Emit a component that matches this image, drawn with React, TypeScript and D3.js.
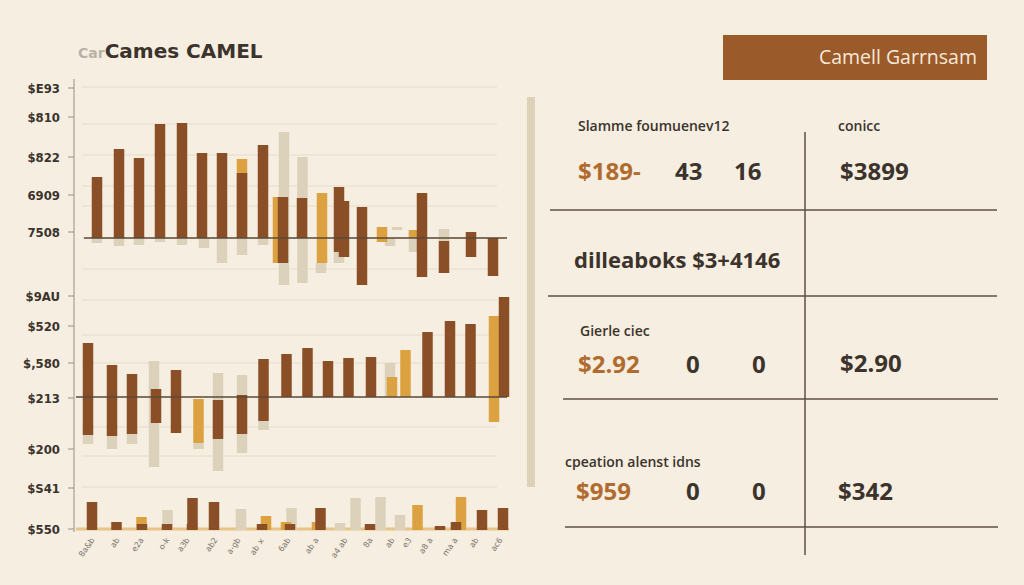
import React from "react";
import * as d3 from "d3";

// ---------- data ----------
// bars: [position, low, high]
const p1Light: [number, number, number][] = [
  [210, -47, 106], [228.5, -45, 81], [323, 8, 11], [340, -14, 6], [370, -3, 9],
  [23, -5, 0], [45, -8, 0], [65, -7, 0], [86, -4, 0], [108, -7, 0], [130, -10, 0],
  [148, -25, 0], [168, -17, 0], [189, -7, 0], [247, -35, -25], [265, -25, -14], [316, -8, 0],
];
const p1Orange: [number, number, number][] = [
  [168, 0, 79], [204, -25, 41], [248, -25, 45], [308, -4, 11], [340, 0, 8],
];
const p1Brown: [number, number, number][] = [
  [23, 0, 61], [45, 0, 89], [65, 0, 80], [86, 0, 114], [108, 0, 115], [128, 0, 85],
  [148, 0, 85], [168, 0, 65], [189, 0, 93], [209, -25, 41], [228, 0, 40], [265, -14, 51],
  [270, -19, 37], [288, -47, 31], [348, -39, 45], [370, -35, -3], [397, -19, 6], [419, -38, 0],
];

const p2Light: [number, number, number][] = [
  [80, -70, 36], [144, -74, 24], [168, -56, 22], [316, 0, 34], [14, -47, -38], [38, -52, -39],
  [58, -47, -37], [124.5, -52, -46], [189.5, -33, -24],
];
const p2Orange: [number, number, number][] = [
  [124.5, -46, -2], [318, 0, 20], [331.5, 0, 47], [420, -25, 81],
];
const p2Brown: [number, number, number][] = [
  [14, -38, 54], [38, -39, 32], [58, -37, 23], [82, -26, 8], [102, -36, 27], [144, -42, -3],
  [168, -37, 2], [189.5, -24, 38], [212.5, 0, 43], [233.5, 0, 49], [254, 0, 36], [274.5, 0, 39],
  [297, 0, 40], [353.5, 0, 65], [376, 0, 76], [396.5, 0, 73], [430, 0, 100],
];

const p3Light: [number, number, number][] = [
  [93.5, 0, 20], [167, 0, 21], [217.5, 0, 22], [266, 0, 7], [281.5, 0, 32], [306.5, 0, 33], [326, 0, 15],
];
const p3Orange: [number, number, number][] = [
  [67.5, 0, 13], [192, 0, 14], [343.5, 0, 25], [387, 0, 33], [243, 0, 8], [212, 0, 8],
];
const p3Brown: [number, number, number][] = [
  [18, 0, 28], [42.5, 0, 8], [118.5, 0, 32], [140, 0, 28], [246.5, 0, 22], [408, 0, 20],
  [429, 0, 22], [68, 0, 6], [93, 0, 6], [118, 0, 6], [188, 0, 6], [216, 0, 6], [296, 0, 6],
  [382, 0, 8], [366, 0, 4],
];

const p1Ticks: [number, string][] = [[150, "$E93"], [121, "$810"], [81, "$822"], [43, "6909"], [6, "7508"]];
const p2Ticks: [number, string][] = [[101, "$9AU"], [71, "$520"], [34, "$,580"], [-1, "$213"], [-52, "$200"]];
const p3Ticks: [number, string][] = [[42, "$S41"], [1, "$550"]];
const p1Grid = [151, 114, 83, 52, 32, 0, -31];
const p2Grid = [97, 62, 34, -30, -59, -90];

const xLabels: [number, string][] = [
  [18, "8a&b"], [43, "ab"], [67, "e2a"], [93, "o-k"], [113, "a3b"], [141, "ab2"], [164, "a-gb"],
  [188, "ab ×"], [214, "6ab"], [242, "ab a"], [271, "a4 ab"], [296, "8a"], [318, "ab"],
  [335, "e3"], [356, "a8 a"], [381, "ma a"], [402, "ab"], [426, "ac6"],
];

const tableHeads: [string, number, number][] = [
  ["Slamme foumuenev12", 578, 131], ["conicc", 838, 131],
  ["Gierle ciec", 580, 336], ["cpeation alenst idns", 565, 467],
];
const tableOrange: [string, number, number][] = [["$189-", 578, 180], ["$2.92", 578, 373], ["$959", 576, 500]];
const tableDark: [string, number, number][] = [
  ["43", 675, 180], ["16", 734, 180], ["$3899", 840, 180],
  ["dilleaboks $3+4146", 574, 268],
  ["0", 686, 373], ["0", 752, 373], ["$2.90", 840, 372],
  ["0", 686, 500], ["0", 752, 500], ["$342", 838, 500],
];

// ---------- styles ----------
const BG = "#f6eee0";
const BROWN = "#8a4f26";
const ORANGE = "#dca242";
const LIGHT = "#dcd2bc";
const DARK = "#3b332c";

export default function App() {
  const x = d3.scaleLinear().domain([0, 440]).range([74, 514]);
  const y1 = d3.scaleLinear().domain([-50, 160]).range([288, 78]);
  const y2 = d3.scaleLinear().domain([-80, 110]).range([477, 287]);
  const y3 = d3.scaleLinear().domain([0, 40]).range([530, 490]);
  const bw = x(10.5) - x(0);

  const bars = (data: [number, number, number][], y: d3.ScaleLinear<number, number>, fill: string, key: string, w = bw) =>
    data.map(([p, lo, hi], i) => (
      <rect key={key + i} x={x(p) - w / 2} y={y(hi)} width={w} height={Math.max(0, y(lo) - y(hi))} fill={fill} />
    ));

  const grid = (vals: number[], y: d3.ScaleLinear<number, number>, key: string) =>
    vals.map((v, i) => (
      <line key={key + i} x1={x(8)} x2={x(423)} y1={y(v)} y2={y(v)} stroke="#e6dccb" strokeWidth={1} />
    ));

  const ticks = (t: [number, string][], y: d3.ScaleLinear<number, number>, key: string) =>
    t.map(([v, s], i) => (
      <g key={key + i}>
        <line x1={68} x2={74} y1={y(v)} y2={y(v)} stroke="#9a9088" strokeWidth={1} />
        <text x={60} y={y(v)} dy="0.35em" textAnchor="end" fontSize={13} fontWeight={600}
          fontFamily="'Liberation Sans Narrow', 'DejaVu Sans Condensed', sans-serif" fill={DARK}>{s}</text>
      </g>
    ));

  return (
    <svg width={1024} height={585} style={{ position: "absolute", left: 0, top: 0 }}>
      <rect width={1024} height={585} fill={BG} />

      {/* title */}
      <text x={78} y={58} fontFamily="'DejaVu Sans', sans-serif" fill={DARK}>
        <tspan fontSize={14} fill="#b9b1a8" fontWeight={700}>Car</tspan>
        <tspan fontSize={20} fontWeight={700}>Cames CAMEL</tspan>
      </text>

      {/* grid */}
      {grid(p1Grid, y1, "g1")}
      {grid(p2Grid, y2, "g2")}

      {/* axis */}
      <line x1={74} x2={74} y1={79} y2={532} stroke="#a89e94" strokeWidth={1.2} />
      {ticks(p1Ticks, y1, "t1")}
      {ticks(p2Ticks, y2, "t2")}
      {ticks(p3Ticks, y3, "t3")}

      {/* panel 1 */}
      {bars(p1Light, y1, LIGHT, "l1")}
      {bars(p1Orange, y1, ORANGE, "o1")}
      {bars(p1Brown, y1, BROWN, "b1")}
      <line x1={x(10)} x2={x(433)} y1={y1(0)} y2={y1(0)} stroke="#5a4838" strokeWidth={1.5} />

      {/* panel 2 */}
      {bars(p2Light, y2, LIGHT, "l2")}
      {bars(p2Orange, y2, ORANGE, "o2")}
      {bars(p2Brown, y2, BROWN, "b2")}
      <line x1={x(2)} x2={x(433)} y1={y2(0)} y2={y2(0)} stroke="#5a4838" strokeWidth={1.5} />

      {/* panel 3 */}
      <line x1={x(2)} x2={x(435)} y1={y3(1)} y2={y3(1)} stroke="#e8c488" strokeWidth={3} />
      {bars(p3Light, y3, LIGHT, "l3")}
      {bars(p3Orange, y3, ORANGE, "o3")}
      {bars(p3Brown, y3, BROWN, "b3")}

      {/* x labels */}
      {xLabels.map(([p, s], i) => (
        <text key={"x" + i} transform={`translate(${x(p) + 3},${540}) rotate(-55)`} textAnchor="end"
          fontSize={8} fontFamily="'DejaVu Sans', sans-serif" fill="#7d756c">{s}</text>
      ))}

      {/* vertical strip */}
      <rect x={527} y={97} width={8} height={390} fill="#ddd1b7" />

      {/* title box */}
      <rect x={723} y={35} width={264} height={45} fill="#9b5a29" />
      <text x={977} y={64} textAnchor="end" fontSize={19.5} fontFamily="'Open Sans', sans-serif" fill="#f6e9da">Camell Garrnsam</text>

      {/* table lines */}
      <g stroke="#5e5044" strokeWidth={1.5}>
        <line x1={805} x2={805} y1={132} y2={555} />
        <line x1={550} x2={997} y1={210} y2={210} />
        <line x1={548} x2={997} y1={296} y2={296} />
        <line x1={563} x2={998} y1={399} y2={399} />
        <line x1={565} x2={998} y1={527} y2={527} />
      </g>

      {tableHeads.map(([s, tx, ty], i) => (
        <text key={"h" + i} x={tx} y={ty} fontSize={14} fontWeight={600}
          fontFamily="'Open Sans', sans-serif" fill={DARK}>{s}</text>
      ))}
      {tableOrange.map(([s, tx, ty], i) => (
        <text key={"o" + i} x={tx} y={ty} fontSize={24} fontWeight={700}
          fontFamily="'Open Sans', sans-serif" fill="#b06b2e">{s}</text>
      ))}
      {tableDark.map(([s, tx, ty], i) => (
        <text key={"d" + i} x={tx} y={ty} fontSize={i === 3 ? 22 : 24} fontWeight={700}
          fontFamily="'Open Sans', sans-serif" fill={DARK}>{s}</text>
      ))}
    </svg>
  );
}
